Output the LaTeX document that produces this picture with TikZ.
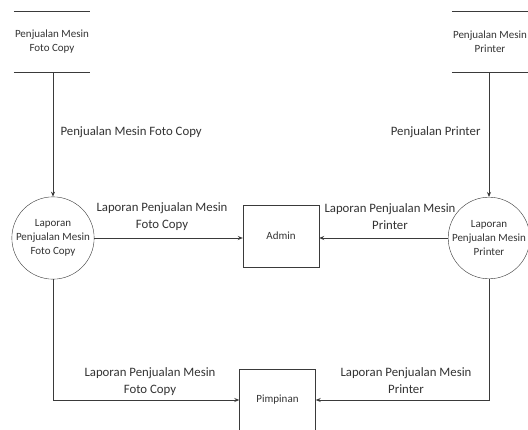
\documentclass[tikz,border=0pt]{standalone}
\usepackage{fontspec}
\setmainfont{Carlito}
\usetikzlibrary{arrows.meta}
\definecolor{ln}{HTML}{3A3A3A}
\definecolor{tx}{HTML}{333333}
\tikzset{
  every node/.style={text=tx},
  store/.style={minimum width=76pt, minimum height=60pt, inner sep=0pt, align=center, font=\fontsize{11}{14}\selectfont},
  proc/.style={circle, draw=ln, minimum size=78pt, inner sep=0pt, align=center, font=\fontsize{11}{14}\selectfont},
  ent/.style={rectangle, draw=ln, minimum width=76pt, minimum height=62pt, inner sep=0pt, font=\fontsize{11}{14}\selectfont},
  flow/.style={draw=ln, line width=0.8pt, -{Stealth[length=5pt,width=4pt]}},
  lbl/.style={align=center, font=\fontsize{12.8}{17}\selectfont},
}
\begin{document}
\begin{tikzpicture}[x=1pt,y=-1pt]
\fill[white] (0,0) rectangle (528,429);
\clip (0,0) rectangle (528,429);
\node[store] (s1) at (52,42) {Penjualan Mesin\\Foto Copy};
\draw[ln, line width=0.8pt] (s1.north west) -- (s1.north east) (s1.south west) -- (s1.south east);
\node[store] (s2) at (490,42) {Penjualan Mesin\\Printer};
\draw[ln, line width=0.8pt] (s2.north west) -- (s2.north east) (s2.south west) -- (s2.south east);
\node[proc] (p1) at (53,238) {Laporan\\Penjualan Mesin\\Foto Copy};
\node[proc] (p2) at (489,238) {Laporan\\Penjualan Mesin\\Printer};
\node[ent] (admin) at (281,236) {Admin};
\node[ent] (pim) at (277.5,400) {Pimpinan};
\draw[flow] (s1.south -| p1.north) -- (p1.north);
\draw[flow] (s2.south -| p2.north) -- (p2.north);
\draw[flow] (p1.east) -- (p1.east -| admin.west);
\draw[flow] (p2.west) -- (p2.west -| admin.east);
\draw[flow] (p1.south) |- (pim.west);
\draw[flow] (p2.south) |- (pim.east);
\node[lbl, anchor=west] (l1) at (57,132) {Penjualan Mesin Foto Copy};
\node[lbl, anchor=east] (l2) at (484,132) {Penjualan Printer};
\node[lbl] (l3) at (162,217) {Laporan Penjualan Mesin\\Foto Copy};
\node[lbl] (l4) at (390,217) {Laporan Penjualan Mesin\\Printer};
\node[lbl] (l5) at (150,382) {Laporan Penjualan Mesin\\Foto Copy};
\node[lbl] (l6) at (406,381) {Laporan Penjualan Mesin\\Printer};
\end{tikzpicture}
\end{document}
